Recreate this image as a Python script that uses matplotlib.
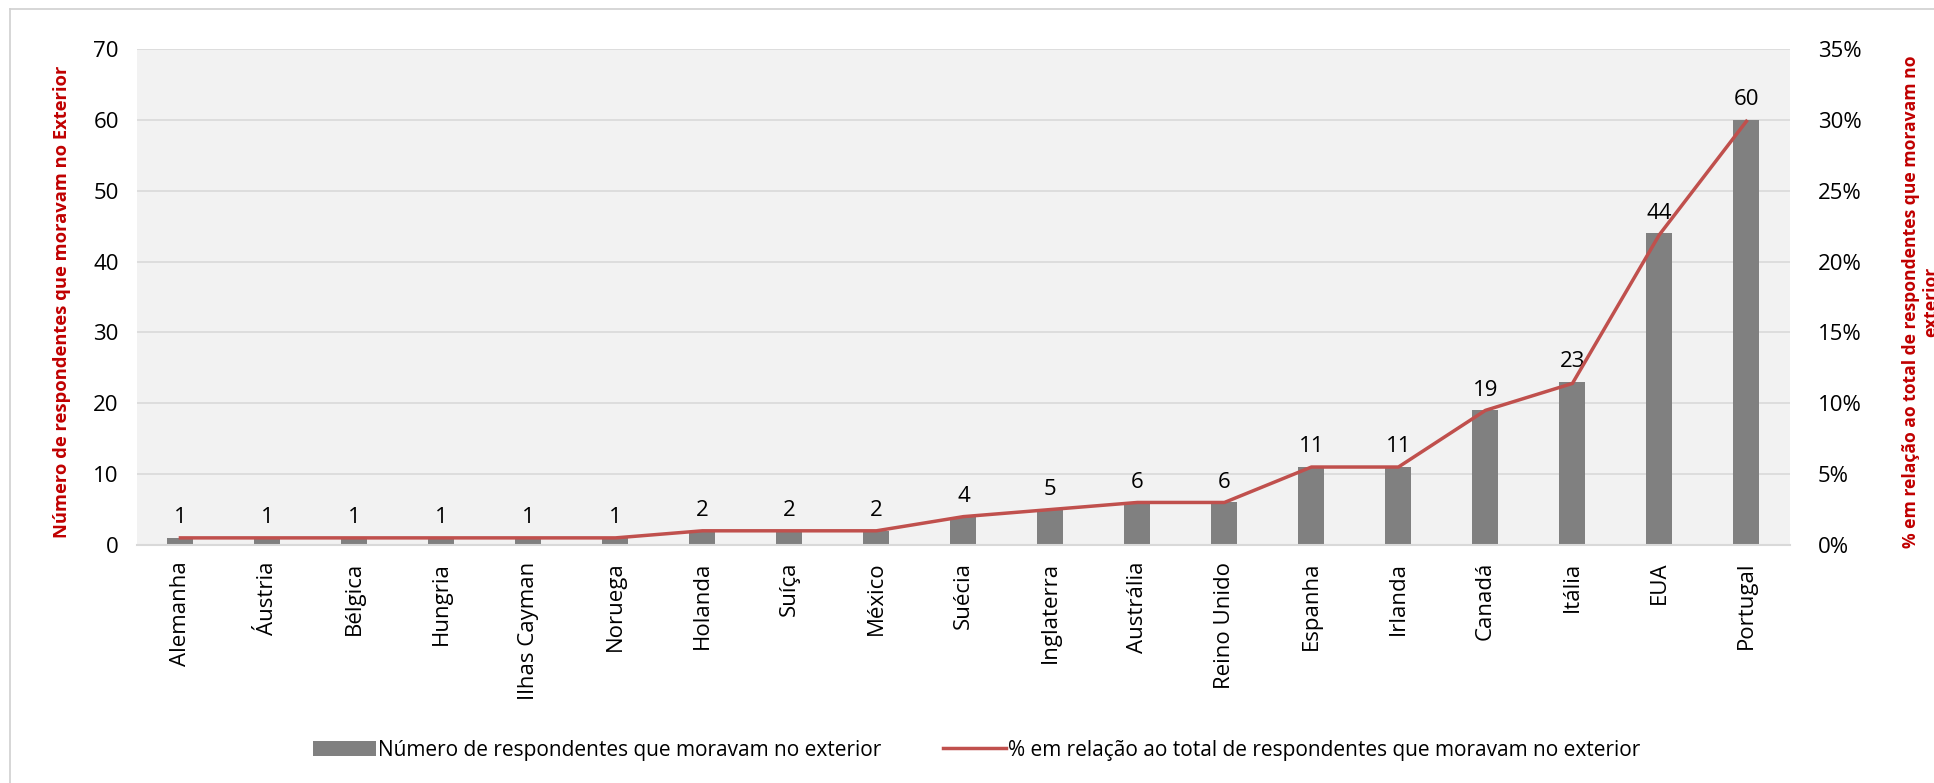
import matplotlib
matplotlib.use("Agg")
import matplotlib.pyplot as plt
from matplotlib.lines import Line2D
from matplotlib.ticker import FuncFormatter, MultipleLocator

plt.rcParams['font.family'] = ['Open Sans', 'DejaVu Sans']

countries = ["Alemanha", "Áustria", "Bélgica", "Hungria", "Ilhas Cayman", "Noruega",
             "Holanda", "Suíça", "México", "Suécia", "Inglaterra", "Austrália",
             "Reino Unido", "Espanha", "Irlanda", "Canadá", "Itália", "EUA", "Portugal"]
counts = [1, 1, 1, 1, 1, 1, 2, 2, 2, 4, 5, 6, 6, 11, 11, 19, 23, 44, 60]
pct = [0.5, 0.5, 0.5, 0.5, 0.5, 0.5, 1.0, 1.0, 1.0, 2.0, 2.5, 3.0, 3.0,
       5.5, 5.5, 9.5, 11.4, 21.9, 29.9]

bar_label = "Número de respondentes que moravam no exterior"
line_label = "% em relação ao total de respondentes que moravam no exterior"
left_ylabel = "Número de respondentes que moravam no Exterior"
right_ylabel = "% em relação ao total de respondentes que moravam no\nexterior"

BAR = "#808080"
LINE = "#C0504D"
RED = "#C00000"
GRID = "#D9D9D9"

fig = plt.figure(figsize=(19.34, 7.83), dpi=100)
ax = fig.add_axes([0.0708, 0.3040, 0.8547, 0.6334])
ax.set_facecolor("#F2F2F2")
x = list(range(len(countries)))
bars = ax.bar(x, counts, width=0.3, color=BAR, zorder=2, label=bar_label)
ax.set_ylim(0, 70)
ax.set_xlim(-0.5, len(countries) - 0.5)
ax.yaxis.set_major_locator(MultipleLocator(10))
ax.grid(axis='y', color=GRID, linewidth=1.2, zorder=0)
ax.set_axisbelow(True)
for s in ['top', 'left', 'right']:
    ax.spines[s].set_visible(False)
ax.spines['bottom'].set_color(GRID)
ax.spines['bottom'].set_linewidth(1.5)
ax.tick_params(axis='both', length=0, labelsize=16, colors='black')
ax.tick_params(axis='y', pad=13)
ax.set_xticks(x)
ax.set_xticklabels(countries, rotation=90, fontsize=16)
ax.tick_params(axis='x', pad=12)

for xi, c in zip(x, counts):
    ax.annotate(str(c), (xi, c), xytext=(0, 7), textcoords='offset points',
                ha='center', va='bottom', fontsize=16)

ax2 = ax.twinx()
ax2.plot(x, pct, color=LINE, linewidth=2.5, zorder=3, label=line_label)
ax2.set_ylim(0, 35)
ax2.yaxis.set_major_locator(MultipleLocator(5))
ax2.yaxis.set_major_formatter(FuncFormatter(lambda v, p: f"{v:.0f}%"))
for s in ['top', 'left', 'right', 'bottom']:
    ax2.spines[s].set_visible(False)
ax2.tick_params(axis='y', length=0, labelsize=16, pad=20)

fig.text(0.032, 0.614, left_ylabel, rotation=90, ha='center', va='center',
         color=RED, fontsize=13.2, fontweight='bold')
fig.text(0.9935, 0.614, right_ylabel, rotation=90, ha='center', va='center',
         color=RED, fontsize=12.6, fontweight='bold', linespacing=1.15)

handles = [bars, Line2D([0], [0], color=LINE, linewidth=2.5)]
fig.legend(handles, [bar_label, line_label], loc='center', bbox_to_anchor=(0.505, 0.042),
           ncol=2, frameon=False, fontsize=15, columnspacing=3.0, handlelength=3.0,
           handletextpad=0.1)

fig.add_artist(Line2D([0.0052, 0.0052], [0, 0.9885], transform=fig.transFigure,
                      color="#D0D0D0", linewidth=1.2))
fig.add_artist(Line2D([0.0052, 1.0], [0.9885, 0.9885], transform=fig.transFigure,
                      color="#D0D0D0", linewidth=1.2))

fig.savefig("out.png", dpi=100)
